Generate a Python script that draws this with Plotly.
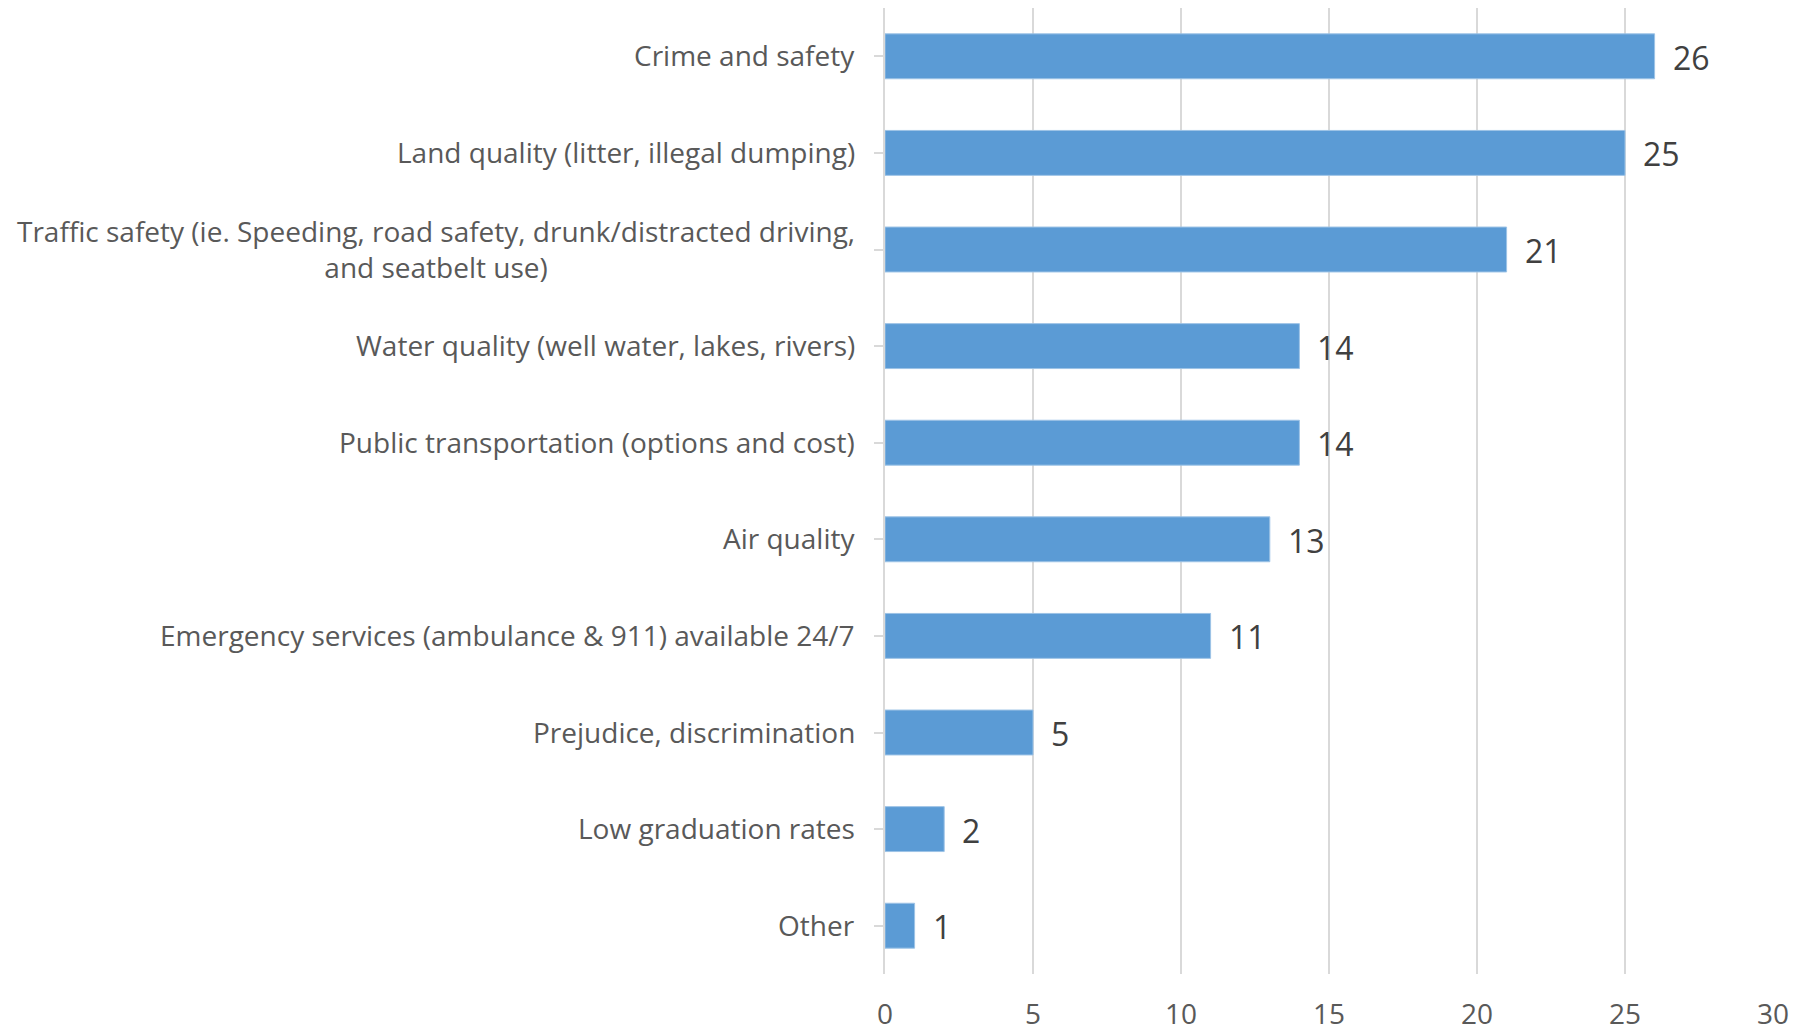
import plotly.graph_objects as go

categories = [
    "Crime and safety",
    "Land quality (litter, illegal dumping)",
    "Traffic safety (ie. Speeding, road safety, drunk/distracted driving,<br>and seatbelt use)",
    "Water quality (well water, lakes, rivers)",
    "Public transportation (options and cost)",
    "Air quality",
    "Emergency services (ambulance & 911) available 24/7",
    "Prejudice, discrimination",
    "Low graduation rates",
    "Other",
]
values = [26, 25, 21, 14, 14, 13, 11, 5, 2, 1]
x_ticks = [0, 5, 10, 15, 20, 25, 30]

cat_ids = list(range(len(categories)))

fig = go.Figure()
fig.add_trace(go.Bar(
    x=values, y=cat_ids, orientation="h",
    marker=dict(color="#5B9BD5", line=dict(color="#9DC3E6", width=1)),
    width=0.465, hoverinfo="skip",
))

annotations = []
for i, (c, v) in enumerate(zip(categories, values)):
    annotations.append(dict(
        x=v, y=i, xref="x", yref="y", text=str(v), showarrow=False,
        xanchor="left", xshift=16, yshift=-1,
        font=dict(family="Open Sans", size=32, color="#404040"),
    ))
    annotations.append(dict(
        x=0, y=i, xref="x", yref="y", text=c, showarrow=False,
        xanchor="right", xshift=-28, yshift=1, align="center",
        font=dict(family="Open Sans", size=28, color="#595959"),
    ))

fig.update_layout(
    width=1810, height=1030,
    margin=dict(l=877, r=45, t=0, b=64, autoexpand=False),
    paper_bgcolor="white", plot_bgcolor="white",
    showlegend=False,
    annotations=annotations,
    xaxis=dict(
        range=[0, 30], tickvals=x_ticks, ticktext=[str(t) for t in x_ticks],
        showgrid=True, gridcolor="#D9D9D9", gridwidth=1.5,
        zeroline=False, showline=False, ticks="",
        ticklabelstandoff=21, automargin=False,
        tickfont=dict(family="Open Sans", size=28, color="#595959"),
    ),
    yaxis=dict(
        range=[len(categories) - 0.5, -0.5],
        tickvals=cat_ids, showticklabels=False, automargin=False,
        ticks="outside", tickson="boundaries", ticklen=9,
        tickcolor="#D9D9D9", tickwidth=1.5,
        showline=True, linecolor="#D9D9D9", linewidth=1.5,
        showgrid=False, zeroline=False,
    ),
)

fig.write_html("out.html")
